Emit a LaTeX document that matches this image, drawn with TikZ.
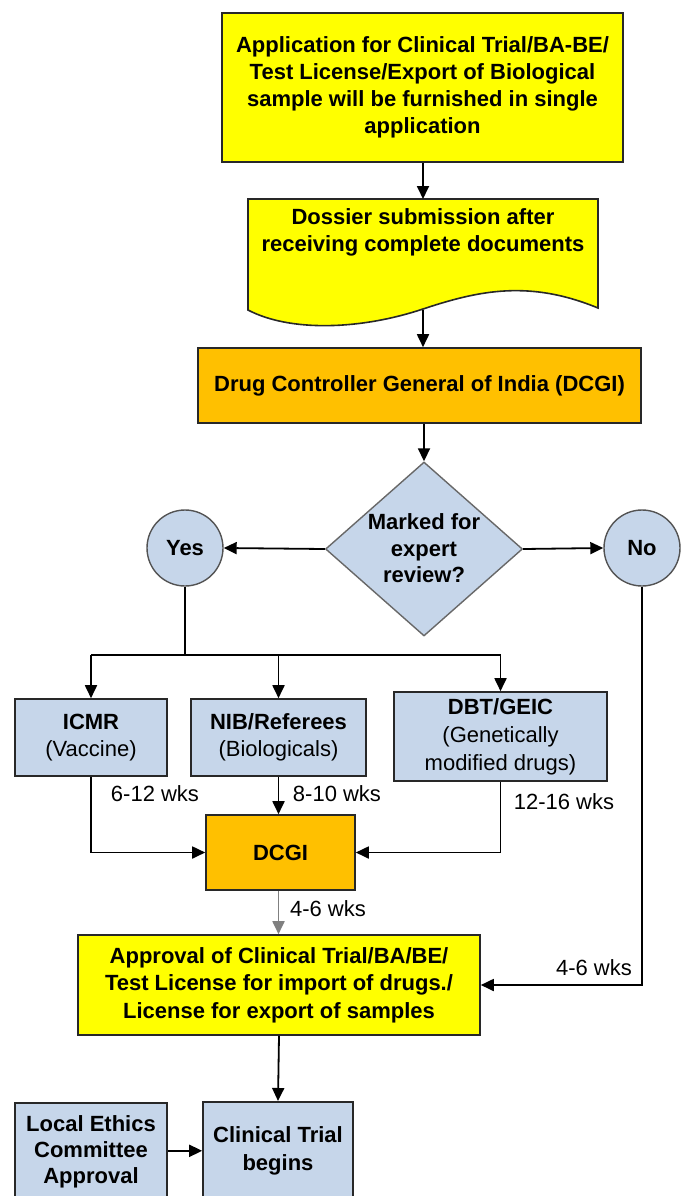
\documentclass[tikz,border=0pt]{standalone}
\usepackage{fontspec}
\setmainfont{Liberation Sans}
\usetikzlibrary{shapes.geometric,arrows.meta}
\definecolor{ylw}{RGB}{255,255,0}
\definecolor{org}{RGB}{255,192,0}
\definecolor{blu}{RGB}{198,214,234}
\definecolor{edge}{RGB}{40,40,40}
\tikzset{
  base/.style={font=\fontsize{22}{27}\selectfont, align=center, inner sep=0pt},
  ybox/.style={base, draw=edge, line width=1.8pt, fill=ylw, font=\fontsize{22}{27}\selectfont\bfseries},
  obox/.style={base, draw=edge, line width=1.6pt, fill=org, font=\fontsize{22}{27}\selectfont\bfseries},
  bbox/.style={base, draw=edge, line width=1.6pt, fill=blu},
  lbl/.style={base},
  conn/.style={line width=1.8pt, draw=black},
  arr/.style={conn, -{Triangle[length=13pt,width=12pt]}},
}
\begin{document}
\begin{tikzpicture}[x=1pt,y=-1pt]
\useasboundingbox (0,0) rectangle (682,1196);
\clip (0,0) rectangle (682,1196);
\fill[white] (0,0) rectangle (682,1196);

% top application box
\node[ybox, minimum width=401pt, minimum height=149pt] (b1) at (422.5,87.5)
  {Application for Clinical Trial/BA-BE/\\Test License/Export of Biological\\sample will be furnished in single\\application};

% document shape
\draw[draw=edge, line width=1.6pt, fill=ylw]
  (248,199) -- (598,199) -- (598,308)
  .. controls (530,280) and (480,290) .. (423,309)
  .. controls (360,330) and (290,332) .. (248,310) -- cycle;
\coordinate (b2top) at (423,199);
\coordinate (b2bot) at (423,310);
\node[base, font=\fontsize{22}{27}\selectfont\bfseries] (b2) at (423,232.5)
  {Dossier submission after\\receiving complete documents};

% DCGI top
\node[obox, minimum width=443pt, minimum height=75pt] (b3) at (419.5,385.5)
  {Drug Controller General of India (DCGI)};

% decision
\node[diamond, draw=edge!70, line width=1.4pt, fill=blu, minimum width=197pt,
  minimum height=174pt, inner sep=0pt] (dia) at (424,549) {};
\node[base, font=\fontsize{22}{26.5}\selectfont\bfseries] (diat) at (424,548.5)
  {Marked for\\expert\\review?};

\node[circle, draw=edge!80, line width=1.4pt, fill=blu, minimum size=76pt,
  inner sep=0pt, font=\fontsize{22}{27}\selectfont\bfseries] (yes) at (185,548) {Yes};
\node[circle, draw=edge!80, line width=1.4pt, fill=blu, minimum size=76pt,
  inner sep=0pt, font=\fontsize{22}{27}\selectfont\bfseries] (no) at (642,548) {No};

% reviewers
\node[bbox, minimum width=152pt, minimum height=77pt] (icmr) at (91,737.5)
  {\textbf{ICMR}\\(Vaccine)};
\node[bbox, minimum width=175pt, minimum height=77pt] (nib) at (278.5,737.5)
  {\textbf{NIB/Referees}\\(Biologicals)};
\node[bbox, minimum width=213pt, minimum height=89pt, font=\fontsize{22}{28}\selectfont] (dbt) at (500.5,736.5)
  {\textbf{DBT/GEIC}\\(Genetically\\modified drugs)};

\node[obox, minimum width=149pt, minimum height=75pt] (dcgi) at (280.5,852.5) {DCGI};

\node[ybox, line width=1.6pt, minimum width=402pt, minimum height=100pt, font=\fontsize{22}{27.5}\selectfont\bfseries] (appr) at (279,985)
  {Approval of Clinical Trial/BA/BE/\\Test License for import of drugs./\\License for export of samples};

\node[bbox, anchor=north, minimum width=152pt, minimum height=98pt, font=\fontsize{22}{26}\selectfont\bfseries] (le) at (91,1102)
  {Local Ethics\\Committee\\Approval};
\node[bbox, anchor=north, minimum width=150pt, minimum height=98pt, font=\fontsize{22}{28}\selectfont\bfseries] (ct) at (278,1101)
  {Clinical Trial\\begins};

% labels
\node[lbl] (l1) at (155,794) {6-12 wks};
\node[lbl] (l2) at (337,794) {8-10 wks};
\node[lbl] (l3) at (564,802) {12-16 wks};
\node[lbl] (l4) at (328,909) {4-6 wks};
\node[lbl] (l5) at (594,968) {4-6 wks};

% connectors
\draw[arr] (b1.south -| b2top) -- (b2top);
\draw[arr] (b2bot) -- (b2bot |- b3.north);
\draw[arr] (dia.north |- b3.south) -- (dia.north);
\draw[arr] (dia.west) -- (yes.east);
\draw[arr] (dia.east) -- (no.west);
\coordinate (sp) at (185,655);
\draw[conn] (yes.south) -- (sp);
\draw[conn] (icmr.north |- sp) -- (dbt.north |- sp);
\draw[arr] (icmr.north |- sp) -- (icmr.north);
\draw[arr] (nib.north |- sp) -- (nib.north);
\draw[arr] (dbt.north |- sp) -- (dbt.north);
\draw[arr] (icmr.south) |- (dcgi.west);
\draw[arr] (nib.south) -- (nib.south |- dcgi.north);
\draw[arr] (dbt.south) |- (dcgi.east);
\draw[arr, draw=gray] (dcgi.south -| nib.south) -- (appr.north -| nib.south);
\draw[arr] (no.south) |- (appr.east);
\draw[arr] (appr.south) -- (ct.north);
\draw[arr] (le.east |- ct.west) -- (ct.west);
\end{tikzpicture}
\end{document}
